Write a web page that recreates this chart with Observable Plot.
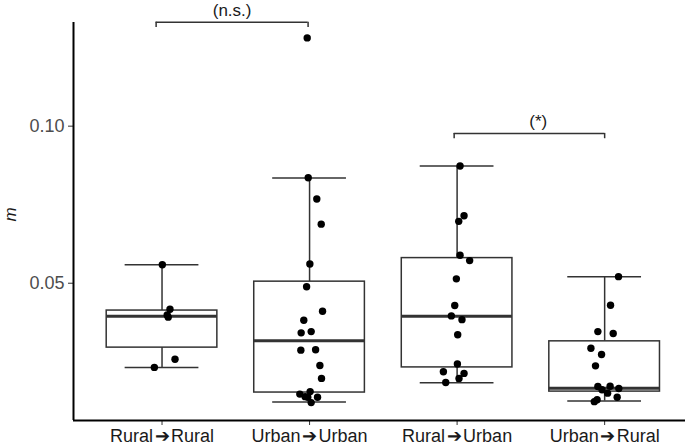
<!DOCTYPE html>
<html>
<head>
<meta charset="utf-8">
<script src="https://cdn.jsdelivr.net/npm/d3@7"></script>
<script src="https://cdn.jsdelivr.net/npm/@observablehq/plot@0.6"></script>
<style>
  html, body { margin: 0; padding: 0; background: #fff; }
  #chart svg { display: block; }
</style>
</head>
<body>
<div id="chart"></div>
<script>
// ---- data ----
const categories = ["Rural\u200A➔\u200ARural", "Urban\u200A➔\u200AUrban", "Rural\u200A➔\u200AUrban", "Urban\u200A➔\u200ARural"];
const whiskerLow  = [0.0232, 0.0122, 0.0183, 0.0125];
const boxQ1       = [0.0295, 0.0152, 0.0232, 0.0155];
const boxMedian   = [0.0395, 0.0317, 0.0395, 0.0166];
const boxQ3       = [0.0413, 0.0505, 0.0580, 0.0315];
const whiskerHigh = [0.0559, 0.0835, 0.0873, 0.0521];

// observations (m) and their horizontal jitter, per group
const ruralRuralM      = [0.0559, 0.0417, 0.0399, 0.0392, 0.0258, 0.0232];
const ruralRuralJitter = [0.002, 0.054, 0.035, 0.042, 0.088, -0.052];
const urbanUrbanM      = [0.1281, 0.0836, 0.0768, 0.0688, 0.0561, 0.0489, 0.0411, 0.0382, 0.0346, 0.0342,
                          0.0288, 0.0287, 0.0238, 0.0197, 0.0147, 0.0155, 0.0139, 0.0137, 0.0120, 0.0137];
const urbanUrbanJitter = [-0.016, -0.009, 0.049, 0.079, 0.002, -0.020, 0.088, -0.039, 0.011, -0.057,
                          0.041, -0.059, 0.070, 0.081, -0.066, 0.004, -0.030, 0.054, 0.011, -0.012];
const ruralUrbanM      = [0.0873, 0.0715, 0.0697, 0.0589, 0.0572, 0.0514, 0.0429, 0.0396, 0.0384, 0.0336,
                          0.0243, 0.0218, 0.0213, 0.0197, 0.0184];
const ruralUrbanJitter = [0.020, 0.047, 0.011, 0.020, 0.085, -0.005, -0.016, -0.039, 0.033, 0.004,
                          0.002, -0.093, 0.047, 0.013, -0.077];
const urbanRuralM      = [0.0521, 0.0430, 0.0346, 0.0340, 0.0293, 0.0273, 0.0237, 0.0171, 0.0161, 0.0172,
                          0.0165, 0.0150, 0.0137, 0.0129, 0.0123];
const urbanRuralJitter = [0.094, 0.040, -0.046, 0.058, -0.093, -0.021, -0.062, -0.046, -0.018, 0.037,
                          0.096, 0.020, 0.085, -0.051, -0.070];

// significance brackets
const bracketFrom  = [0.96, 2.98];
const bracketTo    = [1.99, 4.00];
const bracketY     = [0.1331, 0.0977];
const bracketLabel = ["(n.s.)", "(*)"];
const bracketLabelX = [1.475, 3.55];
const bracketDrop  = 0.0017;

const yTicks = [0.05, 0.10];

// ---- tables built from the arrays ----
const boxes = categories.map((c, i) => ({
  pos: i + 1, lo: whiskerLow[i], q1: boxQ1[i], med: boxMedian[i], q3: boxQ3[i], hi: whiskerHigh[i]
}));
const groups = [
  [ruralRuralM, ruralRuralJitter],
  [urbanUrbanM, urbanUrbanJitter],
  [ruralUrbanM, ruralUrbanJitter],
  [urbanRuralM, urbanRuralJitter]
];
const points = groups.flatMap(([ms, js], i) => ms.map((m, k) => ({x: i + 1 + js[k], m})));
const brackets = bracketLabel.map((l, i) => ({
  x1: bracketFrom[i], x2: bracketTo[i], y: bracketY[i], yd: bracketY[i] - bracketDrop, label: l, lx: bracketLabelX[i]
}));

const boxW = 0.375, capW = 0.25;
const ink = "#333333";

const chart = Plot.plot({
  width: 685,
  height: 447,
  marginLeft: 73,
  marginRight: 0,
  marginTop: 22,
  marginBottom: 27,
  style: {fontFamily: "'Liberation Sans', Arial, sans-serif", background: "#fff"},
  x: {domain: [0.4, 4.548]},
  y: {domain: [0.0063, 0.1330]},
  marks: [
    // whiskers
    Plot.ruleX(boxes, {x: "pos", y1: "q3", y2: "hi", stroke: ink, strokeWidth: 1.5}),
    Plot.ruleX(boxes, {x: "pos", y1: "lo", y2: "q1", stroke: ink, strokeWidth: 1.5}),
    Plot.ruleY(boxes, {y: "hi", x1: d => d.pos - capW, x2: d => d.pos + capW, stroke: ink, strokeWidth: 1.5}),
    Plot.ruleY(boxes, {y: "lo", x1: d => d.pos - capW, x2: d => d.pos + capW, stroke: ink, strokeWidth: 1.5}),
    // boxes
    Plot.rect(boxes, {x1: d => d.pos - boxW, x2: d => d.pos + boxW, y1: "q1", y2: "q3", fill: "white", stroke: ink, strokeWidth: 1.5}),
    Plot.ruleY(boxes, {y: "med", x1: d => d.pos - boxW, x2: d => d.pos + boxW, stroke: ink, strokeWidth: 3}),
    // observations
    Plot.dot(points, {x: "x", y: "m", r: 3.7, fill: "black", stroke: "none"}),
    // brackets
    Plot.ruleY(brackets, {y: "y", x1: "x1", x2: "x2", stroke: ink, strokeWidth: 1.5}),
    Plot.ruleX(brackets, {x: "x1", y1: "y", y2: "yd", stroke: ink, strokeWidth: 1.5}),
    Plot.ruleX(brackets, {x: "x2", y1: "y", y2: "yd", stroke: ink, strokeWidth: 1.5}),
    Plot.text(brackets, {x: "lx", y: "y", text: "label", dy: -12, fontSize: 17, fill: "#1a1a1a"}),
    // axes
    Plot.axisX({ticks: [1, 2, 3, 4], tickFormat: d => categories[d - 1], tickSize: 5, tickPadding: 4,
                fontSize: 18, stroke: ink, fill: "#1a1a1a", label: null}),
    Plot.axisY({ticks: yTicks, tickFormat: d3.format(".2f"), tickSize: 5, tickPadding: 4,
                fontSize: 18, stroke: ink, fill: "#4d4d4d", label: null}),
    Plot.ruleX([0.4], {stroke: "black", strokeWidth: 2}),
    Plot.ruleY([0.0063], {stroke: "black", strokeWidth: 2}),
    Plot.text(["m"], {frameAnchor: "left", dx: -63, rotate: -90, fontSize: 17, fontStyle: "italic", fill: "#1a1a1a"})
  ]
});
document.getElementById("chart").appendChild(chart);
</script>
</body>
</html>
